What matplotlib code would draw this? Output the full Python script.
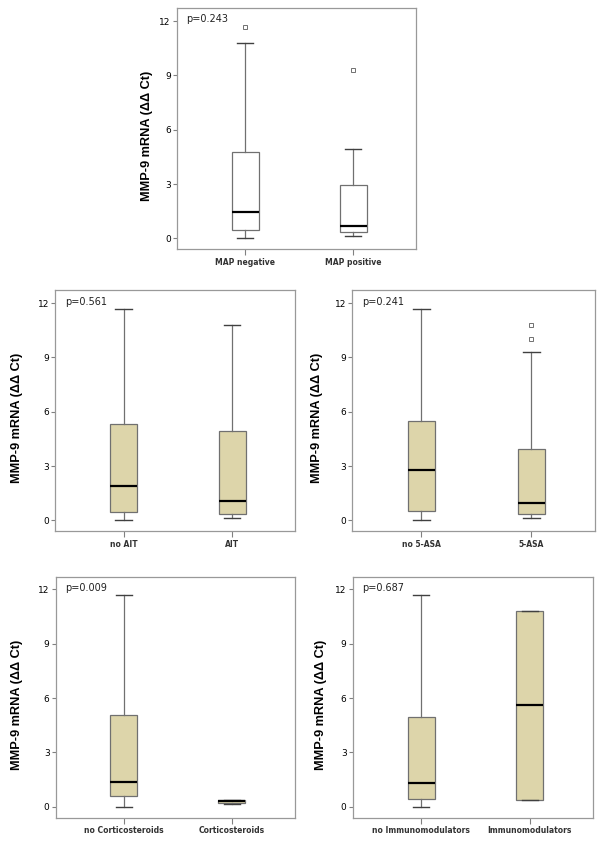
import numpy as np
import matplotlib
matplotlib.use('Agg')
import matplotlib.pyplot as plt

# box statistics: whislo, q1, median, q3, whishi
panels = ['MAP', 'AIT', '5-ASA', 'Corticosteroids', 'Immunomodulators']
labels = [['MAP negative', 'MAP positive'],
          ['no AIT', 'AIT'],
          ['no 5-ASA', '5-ASA'],
          ['no Corticosteroids', 'Corticosteroids'],
          ['no Immunomodulators', 'Immunomodulators']]
p_values = ['p=0.243', 'p=0.561', 'p=0.241', 'p=0.009', 'p=0.687']
whislo = [[0.0, 0.15], [0.0, 0.15], [0.0, 0.15], [0.0, 0.13], [0.0, 0.38]]
q1 = [[0.45, 0.35], [0.45, 0.35], [0.5, 0.35], [0.6, 0.2], [0.45, 0.38]]
med = [[1.45, 0.7], [1.9, 1.1], [2.8, 0.95], [1.35, 0.3], [1.3, 5.6]]
q3 = [[4.75, 2.95], [5.3, 4.95], [5.5, 3.95], [5.05, 0.35], [4.95, 10.8]]
whishi = [[10.8, 4.95], [11.7, 10.8], [11.7, 9.3], [11.7, 0.35], [11.7, 10.8]]
outliers = [[[11.7], [9.3]], [[], []], [[], [10.0, 10.8]], [[], []], [[], []]]
box_fill = ['white', '#ddd5aa', '#ddd5aa', '#ddd5aa', '#ddd5aa']

# axes rectangles in figure fractions (left, bottom, width, height)
rects = [(0.295, 0.704, 0.398, 0.286),
         (0.092, 0.369, 0.400, 0.286),
         (0.587, 0.369, 0.405, 0.286),
         (0.093, 0.029, 0.398, 0.286),
         (0.588, 0.029, 0.400, 0.286)]
label_x = [-0.10, -0.133, -0.12, -0.138, -0.108]

fig = plt.figure(figsize=(6, 8.42), dpi=100)
for i in range(len(panels)):
    ax = fig.add_axes(rects[i])
    stats = []
    for j in range(2):
        stats.append(dict(whislo=whislo[i][j], q1=q1[i][j], med=med[i][j],
                          q3=q3[i][j], whishi=whishi[i][j],
                          fliers=outliers[i][j], label=labels[i][j]))
    ax.bxp(stats, positions=[1, 2], widths=0.25, capwidths=0.15,
           patch_artist=True, showfliers=True,
           boxprops=dict(facecolor=box_fill[i], edgecolor='#707070', linewidth=0.9),
           whiskerprops=dict(color='#707070', linewidth=0.9),
           capprops=dict(color='#404040', linewidth=1.0),
           medianprops=dict(color='black', linewidth=1.6),
           flierprops=dict(marker='s', markersize=3.5, markerfacecolor='white',
                           markeredgecolor='#707070', markeredgewidth=0.7))
    ax.set_xlim(0.37, 2.58)
    ax.set_ylim(-0.6, 12.7)
    ax.set_yticks([0, 3, 6, 9, 12])
    ax.tick_params(axis='y', labelsize=6.5, length=3, color='#808080', pad=1.5)
    ax.tick_params(axis='x', labelsize=5.5, length=4, color='#808080', pad=2)
    for t in ax.get_xticklabels():
        t.set_fontweight('bold')
        t.set_color('#333333')
    for s in ax.spines.values():
        s.set_color('#999999')
        s.set_linewidth(0.9)
    ax.set_ylabel('MMP-9 mRNA (ΔΔ Ct)', family='Liberation Sans',
                  fontweight='bold', fontsize=9.2)
    ax.yaxis.set_label_coords(label_x[i], 0.47)
    ax.text(0.04, 0.975, p_values[i], transform=ax.transAxes, fontsize=7,
            va='top', ha='left', color='#222222')

plt.savefig('out.png', dpi=100)
